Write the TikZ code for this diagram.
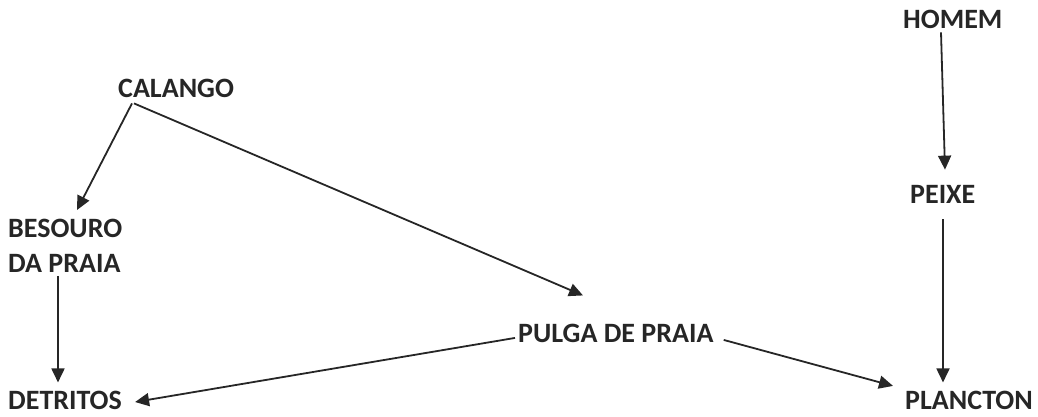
\documentclass[tikz,border=0pt]{standalone}
\usepackage{fontspec}
\setmainfont{Carlito}
\usetikzlibrary{arrows.meta}

\begin{document}
\begin{tikzpicture}[x=1pt,y=-1pt,
    especie/.style={inner sep=0pt,font=\fontsize{28}{35}\selectfont\bfseries,text=black!85},
    seta/.style={line width=1.8pt,black!85,-{Triangle[length=14pt,width=13pt]}}]
  \useasboundingbox (0,0) rectangle (1038,416);
  % nodes, placed by baseline (left edge, baseline)
  \node[especie,anchor=base west] (calango) at (118,97) {CALANGO};
  \node[especie,anchor=north west,align=left] (besouro) at (8,219) {BESOURO\\DA PRAIA};
  \node[especie,anchor=base west] (detritos) at (8,409) {DETRITOS};
  \node[especie,anchor=base west] (pulga) at (518,342) {PULGA DE PRAIA};
  \node[especie,anchor=base west] (homem) at (903,28) {HOMEM};
  \node[especie,anchor=base west] (peixe) at (910,203) {PEIXE};
  \node[especie,anchor=base west] (plancton) at (905,409) {PLANCTON};
  % arrows
  \draw[seta] ([xshift=14pt,yshift=-6pt]calango.south west) -- ([xshift=69pt,yshift=9pt]besouro.north west);
  \draw[seta] ([xshift=16pt,yshift=-6pt]calango.south west) -- ([xshift=65pt,yshift=28pt]pulga.north west);
  \draw[seta] ([xshift=50pt,yshift=-3pt]besouro.south west) -- ([xshift=50pt,yshift=8pt]detritos.north west);
  \draw[seta] ([xshift=-3pt,yshift=-5pt]pulga.west) -- ([xshift=13pt,yshift=7pt]detritos.base east);
  \draw[seta] ([xshift=10pt,yshift=-7pt]pulga.east) -- ([xshift=-12pt,yshift=14pt]plancton.west);
  \draw[seta] ([xshift=38pt,yshift=-4pt]homem.south west) -- ([xshift=35pt,yshift=15pt]peixe.north west);
  \draw[seta] ([xshift=33pt,yshift=-16pt]peixe.south west) -- ([xshift=38pt,yshift=8pt]plancton.north west);
\end{tikzpicture}
\end{document}
